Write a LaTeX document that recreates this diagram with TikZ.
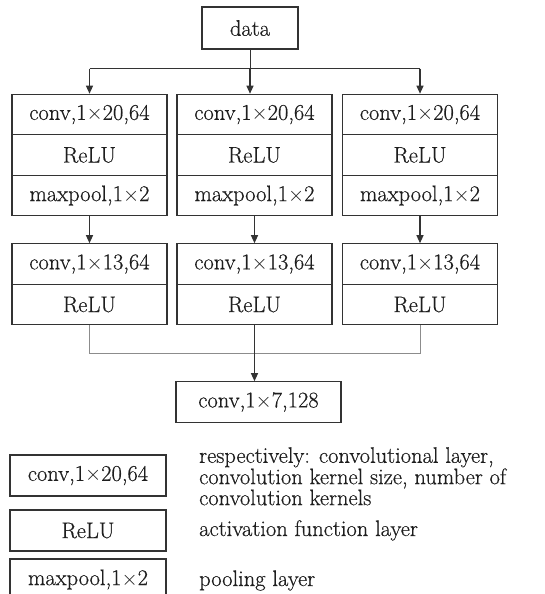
\documentclass[tikz,border=0pt]{standalone}
\usepackage{fontspec}
\setmainfont{Latin Modern Roman}[FakeBold=0.5]
\usetikzlibrary{arrows.meta}
\definecolor{ink}{HTML}{333333}
\definecolor{wire}{HTML}{8C8C8C}
\definecolor{txt}{HTML}{1E1E1E}
\newcommand{\tms}{\ensuremath{{\times}}}
\begin{document}
\begin{tikzpicture}[x=1pt,y=-1pt,
  font=\fontsize{22.5}{19.5}\selectfont,
  cell/.style={draw=ink, line width=1.1pt, minimum width=155pt,
    minimum height=40.5pt, inner sep=0pt, text=txt},
  flow/.style={draw=ink, line width=1.2pt,
    -{Triangle[length=8pt,width=7pt]}},
  bus/.style={draw=ink, line width=0.9pt},
  merge/.style={draw=wire, line width=0.9pt},
  note/.style={anchor=north west, inner sep=0pt, align=left, text=txt}]
\useasboundingbox (0,0) rectangle (545,594);

% input
\node[cell, minimum width=96pt, minimum height=42pt] (d) at (250,28) {data};

% first stage: three parallel branches, then the second stage
\foreach \c/\x in {1/89.5, 2/254.5, 3/420} {
  \node[cell] (a\c) at (\x,114.5) {conv,1\tms20,64};
  \node[cell] (r\c) at (\x,155)   {ReLU};
  \node[cell] (p\c) at (\x,195.5) {maxpool,1\tms2};
  \node[cell] (b\c) at (\x,264)   {conv,1\tms13,64};
  \node[cell] (s\c) at (\x,304.5) {ReLU};
  \draw[flow] (p\c.south) -- (b\c.north);
}

% fused output
\node[cell, minimum width=165pt] (f) at (258.5,402) {conv,1\tms7,128};

% split from the input
\draw[bus] (d.south) -- ++(0,19) coordinate (j);
\draw[bus] (a1.north |- j) -- (a3.north |- j);
\draw[flow] (j) -- (a2.north -| j);
\draw[flow] (a1.north |- j) -- (a1.north);
\draw[flow] (a3.north |- j) -- (a3.north);

% merge into the fused layer
\draw[merge] (s1.south) -- ++(0,28) coordinate (m) -| (s3.south);
\draw[flow] (s2.south) -- (f.north -| s2.south);

% legend
\node[cell, minimum width=156pt, minimum height=41pt] (k1) at (88,475.5) {conv,1\tms20,64};
\node[cell, minimum width=156pt, minimum height=41pt] (k2) at (88,530.5) {ReLU};
\node[cell, minimum width=156pt, minimum height=41pt] (k3) at (88,579.5) {maxpool,1\tms2};
\node[note] (t1) at (199,447) {respectively: convolutional layer,\\convolution kernel size, number of\\convolution kernels};
\node[note, anchor=base west] (t2) at (199,536) {activation function layer};
\node[note, anchor=base west] (t3) at (199,586) {pooling layer};
\end{tikzpicture}
\end{document}
